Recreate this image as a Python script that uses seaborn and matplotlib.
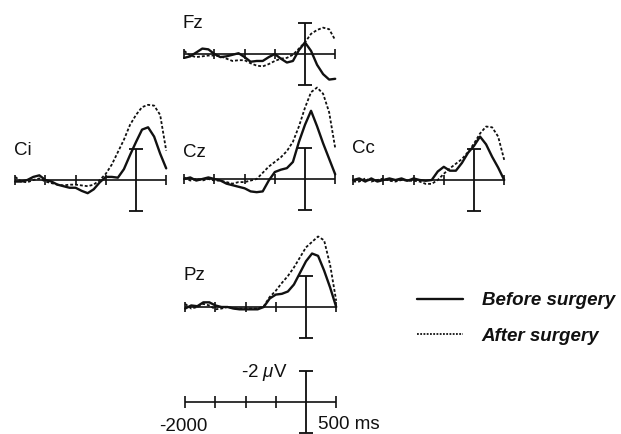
import numpy as np
import pandas as pd
import matplotlib
matplotlib.use("Agg")
import matplotlib.pyplot as plt
from matplotlib.lines import Line2D
import seaborn as sns

# ---------------- data (µV, negative plotted upward) ----------------
time_ms = [-2000, -1900, -1800, -1700, -1600, -1500, -1400, -1300, -1200, -1100,
           -1000, -900, -800, -700, -600, -500, -400, -300, -200, -100,
           0, 100, 200, 300, 400, 500]

fz_before = [0.25, 0.15, -0.1, -0.35, -0.3, 0.0, 0.2, 0.15, 0.05, -0.05,
             0.2, 0.5, 0.45, 0.45, 0.2, 0.0, 0.3, 0.55, 0.45, -0.25,
             -0.75, -0.2, 0.7, 1.3, 1.65, 1.6]
fz_after = [-0.2, 0.1, 0.2, 0.15, 0.1, 0.1, 0.15, 0.3, 0.45, 0.4,
            0.4, 0.6, 0.75, 0.8, 0.65, 0.45, 0.3, 0.25, 0.05, -0.35,
            -0.75, -1.3, -1.55, -1.7, -1.6, -0.9]

ci_before = [0.1, 0.1, 0.0, -0.2, -0.3, 0.0, 0.1, 0.3, 0.4, 0.5,
             0.5, 0.7, 0.85, 0.6, 0.15, -0.2, -0.2, -0.15, -0.7, -1.6,
             -2.45, -3.25, -3.4, -2.8, -1.7, -0.75]
ci_after = [-0.2, 0.1, 0.15, 0.0, -0.1, 0.1, 0.2, 0.3, 0.35, 0.3,
            0.3, 0.35, 0.4, 0.3, 0.0, -0.4, -1.0, -1.8, -2.6, -3.55,
            -4.2, -4.7, -4.85, -4.8, -4.2, -1.9]

cz_before = [0.0, -0.1, 0.1, 0.0, -0.1, 0.0, 0.1, 0.3, 0.4, 0.5,
             0.6, 0.8, 0.85, 0.8, 0.1, -0.45, -0.6, -0.7, -1.1, -2.4,
             -3.5, -4.4, -3.4, -2.3, -1.3, -0.3]
cz_after = [-0.1, 0.1, 0.0, 0.1, 0.0, 0.1, 0.1, 0.2, 0.3, 0.2,
            0.2, 0.1, 0.0, -0.4, -0.8, -1.1, -1.4, -1.8, -2.4, -3.4,
            -4.6, -5.6, -5.9, -5.5, -4.3, -2.0]

cc_before = [0.0, -0.1, 0.1, -0.1, 0.1, 0.0, -0.1, 0.0, -0.1, 0.05,
             -0.1, 0.0, 0.05, 0.0, -0.55, -0.85, -0.6, -0.6, -1.1, -1.75,
             -2.2, -2.8, -2.3, -1.5, -0.8, 0.0]
cc_after = [0.1, 0.1, -0.1, 0.1, 0.0, -0.1, 0.05, 0.1, 0.0, 0.05,
            0.05, 0.1, 0.25, 0.25, 0.0, -0.4, -0.75, -1.05, -1.35, -1.8,
            -2.35, -3.0, -3.45, -3.4, -2.8, -1.3]

pz_before = [0.1, -0.1, -0.05, -0.3, -0.3, -0.1, 0.0, 0.0, 0.1, 0.15,
             0.15, 0.15, 0.15, 0.0, -0.55, -0.8, -0.85, -1.0, -1.45, -2.2,
             -2.95, -3.45, -3.3, -2.35, -1.25, 0.0]
pz_after = [-0.2, 0.1, 0.0, -0.2, -0.1, 0.15, 0.1, 0.0, 0.1, 0.1,
            0.1, 0.1, 0.1, -0.05, -0.65, -1.05, -1.55, -2.0, -2.55, -3.2,
            -3.85, -4.2, -4.55, -4.3, -2.7, -0.4]

channels = ["Fz", "Ci", "Cz", "Cc", "Pz"]
before = [fz_before, ci_before, cz_before, cc_before, pz_before]
after = [fz_after, ci_after, cz_after, cc_after, pz_after]

tick_ms = [-2000, -1500, -1000, -500, 0, 500]
bar_uv = 2
conditions = ["Before surgery", "After surgery"]

# ---------------- layout ----------------
W, H = 621, 434
PX_PER_MS = 151.0 / 2500.0
PX_PER_UV = 15.5
XLIM = (-2300, 700)
YLIM = (4.0, -7.5)   # inverted: negative up
FS = 13.5

# pixel position of (t=0, 0 µV) for each panel
origins = {"Fz": (305, 54), "Ci": (136, 180), "Cz": (305, 179),
           "Cc": (474, 180), "Pz": (306, 307), "scale": (306, 402)}
label_y = {"Fz": -1.7, "Ci": -1.6, "Cz": -1.4, "Cc": -1.75, "Pz": -1.75}

INK = "#111111"

sns.set_theme(style="white")
plt.rcParams["font.family"] = ["Liberation Sans", "DejaVu Sans"]
plt.rcParams["mathtext.fontset"] = "custom"
plt.rcParams["mathtext.it"] = "Liberation Sans:italic"
plt.rcParams["mathtext.rm"] = "Liberation Sans"

fig = plt.figure(figsize=(W / 100, H / 100), dpi=100)
fig.patch.set_facecolor("white")


def make_axes(key):
    x0, y0 = origins[key]
    left_px = x0 + XLIM[0] * PX_PER_MS
    w_px = (XLIM[1] - XLIM[0]) * PX_PER_MS
    top_px = y0 + YLIM[1] * PX_PER_UV
    h_px = (YLIM[0] - YLIM[1]) * PX_PER_UV
    bottom_px = top_px + h_px
    ax = fig.add_axes([left_px / W, (H - bottom_px) / H, w_px / W, h_px / H])
    ax.set_xlim(*XLIM)
    ax.set_ylim(*YLIM)
    ax.axis("off")
    ax.patch.set_alpha(0)
    return ax


def draw_cross(ax, tick_half=0.32, cap_half=110, lw=1.2):
    ax.hlines(0, tick_ms[0], tick_ms[-1], color=INK, lw=lw, clip_on=False)
    others = [t for t in tick_ms if t != 0]
    ax.vlines(others, -tick_half, tick_half, color=INK, lw=lw, clip_on=False)
    ax.vlines(0, -bar_uv, bar_uv, color=INK, lw=lw * 1.1, clip_on=False)
    ax.hlines([-bar_uv, bar_uv], -cap_half, cap_half, color=INK, lw=lw * 1.1,
              clip_on=False)


for ch, b, a in zip(channels, before, after):
    ax = make_axes(ch)
    draw_cross(ax)
    df = pd.DataFrame({"time": time_ms + time_ms,
                       "uv": b + a,
                       "cond": [conditions[0]] * len(b) + [conditions[1]] * len(a)})
    sns.lineplot(data=df[df.cond == conditions[0]], x="time", y="uv", ax=ax,
                 color=INK, lw=1.7, legend=False)
    sns.lineplot(data=df[df.cond == conditions[1]], x="time", y="uv", ax=ax,
                 color=INK, lw=1.3, linestyle=(0, (1.6, 1.1)), legend=False)
    ax.text(tick_ms[0] - 20, label_y[ch], ch, ha="left", va="baseline",
            fontsize=FS, color=INK)

# scale bar
sax = make_axes("scale")
draw_cross(sax, tick_half=0.4, cap_half=120)
sax.text(-300, -1.6, r"-2 $\mu$V", ha="right", va="baseline", fontsize=FS, color=INK)
sax.text(tick_ms[0] - 30, 1.87, "-2000", ha="center", va="baseline", fontsize=FS, color=INK)
sax.text(200, 1.75, "500 ms", ha="left", va="baseline", fontsize=FS, color=INK)

# legend
handles = [Line2D([], [], color=INK, lw=1.7),
           Line2D([], [], color=INK, lw=1.3, linestyle=(0, (1.0, 0.8)))]
leg = fig.legend(handles, conditions, loc="upper left",
                 bbox_to_anchor=(417 / W, 1 - 292 / H), frameon=False,
                 borderpad=0, borderaxespad=0, handlelength=2.45,
                 handletextpad=1.0, labelspacing=1.0,
                 prop={"size": FS, "weight": "bold", "style": "italic",
                       "family": ["Liberation Sans", "DejaVu Sans"]})
for t in leg.get_texts():
    t.set_color(INK)

fig.savefig("out.png", dpi=100, facecolor="white")
